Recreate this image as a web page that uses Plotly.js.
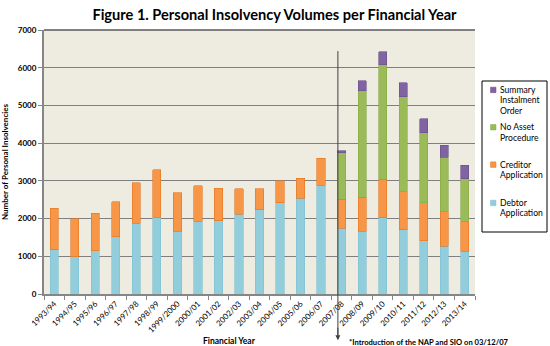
<!DOCTYPE html>
<html><head><meta charset="utf-8">
<script src="https://cdn.plot.ly/plotly-3.0.1.min.js"></script>
<style>html,body{margin:0;padding:0;background:#fff;}#chart{width:550px;height:346px;}</style>
</head><body><div id="chart"></div>
<script>
const years = ["1993/94","1994/95","1995/96","1996/97","1997/98","1998/99","1999/2000","2000/01","2001/02","2002/03","2003/04","2004/05","2005/06","2006/07","2007/08","2008/09","2009/10","2010/11","2011/12","2012/13","2013/14"];
const debtor   = [1170, 990, 1150, 1520, 1875, 2035, 1670, 1935, 1945, 2120, 2230, 2415, 2540, 2890, 1740, 1660, 2025, 1700, 1415, 1270, 1140];
const creditor = [1100, 1000, 990, 930, 1070, 1255, 1010, 930, 865, 675, 565, 585, 535, 710, 770, 905, 1015, 1015, 1000, 915, 780];
const nap      = [null,null,null,null,null,null,null,null,null,null,null,null,null,null, 1230, 2830, 3035, 2510, 1865, 1440, 1130];
const sio      = [null,null,null,null,null,null,null,null,null,null,null,null,null,null, 55, 255, 345, 370, 370, 325, 360];
const yTicks = [0,1000,2000,3000,4000,5000,6000,7000];
const seriesNames = ["Debtor Application","Creditor Application","No Asset Procedure","Summary Instalment Order"];
const legendLines = [["Debtor","Application"],["Creditor","Application"],["No Asset","Procedure"],["Summary","Instalment","Order"]];
const colors = ['#92CDDC','#F79646','#9BBB59','#8064A2'];
const edges  = ['#7fc0d2','#e3741f','#86a848','#6a4f8c'];

const F = "Lato, 'Open Sans', sans-serif";
// plot area in pixels: left 44, right 475, top 30, bottom 294
const PL=44, PR=475, PT=30, PB=294;
const px = v => (v-PL)/(PR-PL);
const py = v => (PB-v)/(PB-PT);

const series = [debtor, creditor, nap, sio];
const data = series.map((s,i)=>({type:'bar', x:years, y:s, name:seriesNames[i], showlegend:false,
  marker:{color:colors[i], line:{color:edges[i], width:0.6}}, hoverinfo:'skip'}));

// manual legend layout (pixel positions of the first line of each entry, top entry first = last series)
const legendTop = [203, 164.7, 127.3, 90]; // first-line centre y for debtor, creditor, nap, sio
const lineH = 10.4;
const shapes = [
  {type:'line', xref:'paper', yref:'paper', x0:0, x1:1, y0:1, y1:1, line:{color:'#595959', width:1.5}},
  {type:'line', xref:'x', yref:'paper', x0:13.82, x1:13.82, y0:0.92, y1:-0.16, line:{color:'#404040', width:1}},
  {type:'rect', xref:'paper', yref:'paper', x0:px(482), x1:px(547), y0:py(81), y1:py(232), fillcolor:'#ffffff', line:{color:'#000', width:1}}
];
const annotations = [
  {xref:'x', yref:'paper', x:13.82, y:-0.175, ax:0, ay:-14, showarrow:true, arrowhead:2, arrowsize:1, arrowwidth:1, arrowcolor:'#404040', text:''},
  {xref:'paper', yref:'paper', x:px(346.5), y:py(341.5), xanchor:'left', yanchor:'middle', showarrow:false,
    text:'<b>*Introduction of the NAP and SIO on 03/12/07</b>', font:{size:7.6, family:F}},
  {xref:'paper', yref:'paper', x:px(229), y:py(340.5), xanchor:'center', yanchor:'middle', showarrow:false,
    text:'<b>Financial Year</b>', font:{size:8.5, family:F}}
];
legendLines.forEach((lines,i)=>{
  const y0 = legendTop[i];
  shapes.push({type:'rect', xref:'paper', yref:'paper', x0:px(490.5), x1:px(496), y0:py(y0-2.8), y1:py(y0+2.7),
    fillcolor:colors[i], line:{color:edges[i], width:0.5}});
  lines.forEach((t,j)=>{
    annotations.push({xref:'paper', yref:'paper', x:px(498), y:py(y0+j*lineH), xanchor:'left', yanchor:'middle',
      showarrow:false, text:t, font:{size:8.6, family:F, color:'#000'}});
  });
});

const layout = {
  width:550, height:346,
  margin:{l:PL, r:550-PR, t:PT, b:346-PB, autoexpand:false},
  paper_bgcolor:'#ffffff', plot_bgcolor:'#EEECE1',
  barmode:'stack', bargap:0.6, showlegend:false,
  font:{family:F, color:'#000'},
  title:{text:'<b>Figure 1. Personal Insolvency Volumes per Financial Year</b>', x:px(274.5), xref:'paper', xanchor:'center', y:0.957, yanchor:'middle', font:{size:14.6, family:F, color:'#000'}},
  xaxis:{type:'category', tickangle:-45, tickfont:{size:8, family:F}, ticks:'outside', tickson:'boundaries', ticklen:4, tickcolor:'#868686',
    showline:true, linecolor:'#868686', linewidth:2, showgrid:false, range:[-0.5,20.5]},
  yaxis:{range:[0,7000], tickvals:yTicks, ticktext:yTicks.map(String), tickfont:{size:8, family:F, weight:'bold'},
    ticks:'outside', ticklen:4, tickcolor:'#868686', showline:true, linecolor:'#868686', linewidth:2,
    gridcolor:'#7f7f7f', gridwidth:1, zeroline:false,
    title:{text:'<b>Number of Personal Insolvencies</b>', font:{size:8, family:F}, standoff:8}},
  shapes:shapes,
  annotations:annotations
};
Plotly.newPlot('chart', data, layout, {displayModeBar:false, staticPlot:true});
</script></body></html>
